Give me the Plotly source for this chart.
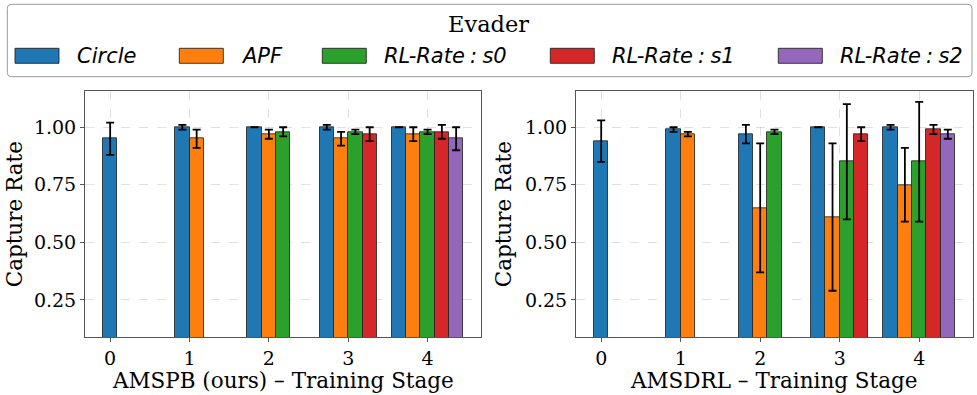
import plotly.graph_objects as go

# ---------------- data ----------------
stages = [0, 1, 2, 3, 4]
tick_labels = ["0", "1", "2", "3", "4"]
series_names = ["Circle", "APF", "RL-Rate\u2005:\u2005s0", "RL-Rate\u2005:\u2005s1", "RL-Rate\u2005:\u2005s2"]
colors = ["#1f77b4", "#ff7f0e", "#2ca02c", "#d62728", "#9467bd"]

amspb_circle = [0.95, 1.00, 1.00, 1.00, 1.00]
amspb_circle_err = [0.07, 0.01, 0.00, 0.01, 0.00]
amspb_apf = [None, 0.95, 0.97, 0.95, 0.97]
amspb_apf_err = [None, 0.04, 0.02, 0.03, 0.03]
amspb_s0 = [None, None, 0.98, 0.98, 0.98]
amspb_s0_err = [None, None, 0.02, 0.01, 0.01]
amspb_s1 = [None, None, None, 0.97, 0.98]
amspb_s1_err = [None, None, None, 0.03, 0.03]
amspb_s2 = [None, None, None, None, 0.95]
amspb_s2_err = [None, None, None, None, 0.05]

amsdrl_circle = [0.94, 0.99, 0.97, 1.00, 1.00]
amsdrl_circle_err = [0.09, 0.01, 0.04, 0.00, 0.01]
amsdrl_apf = [None, 0.97, 0.65, 0.61, 0.75]
amsdrl_apf_err = [None, 0.01, 0.28, 0.32, 0.16]
amsdrl_s0 = [None, None, 0.98, 0.85, 0.85]
amsdrl_s0_err = [None, None, 0.01, 0.25, 0.26]
amsdrl_s1 = [None, None, None, 0.97, 0.99]
amsdrl_s1_err = [None, None, None, 0.03, 0.02]
amsdrl_s2 = [None, None, None, None, 0.97]
amsdrl_s2_err = [None, None, None, None, 0.02]

panels = [
    ("AMSPB (ours) – Training Stage",
     [amspb_circle, amspb_apf, amspb_s0, amspb_s1, amspb_s2],
     [amspb_circle_err, amspb_apf_err, amspb_s0_err, amspb_s1_err, amspb_s2_err]),
    ("AMSDRL – Training Stage",
     [amsdrl_circle, amsdrl_apf, amsdrl_s0, amsdrl_s1, amsdrl_s2],
     [amsdrl_circle_err, amsdrl_apf_err, amsdrl_s0_err, amsdrl_s1_err, amsdrl_s2_err]),
]
y_title = "Capture Rate"

# ---------------- figure ----------------
W, H = 977, 395
BAR_W = 0.18
SERIF = "'DejaVu Serif', serif"
SANS = "'DejaVu Sans', sans-serif"
FS_TITLE = 21.5
FS_TICK = 19

def px(x):
    return x / W

def py(y):
    return 1 - y / H

fig = go.Figure()

for p, (title, vals, errs) in enumerate(panels):
    xa = "x" if p == 0 else "x2"
    ya = "y" if p == 0 else "y2"
    for j, name in enumerate(series_names):
        xs, ys, es = [], [], []
        for s_i, s in enumerate(stages):
            v = vals[j][s_i]
            if v is None:
                continue
            present = [k for k in range(len(series_names)) if vals[k][s_i] is not None]
            n = len(present)
            idx = present.index(j)
            xs.append(s + (idx - (n - 1) / 2) * BAR_W)
            ys.append(v)
            es.append(errs[j][s_i])
        fig.add_trace(go.Bar(
            x=xs, y=ys, width=BAR_W, name=name, showlegend=False,
            xaxis=xa, yaxis=ya,
            marker=dict(color=colors[j], line=dict(color="rgba(30,30,30,0.8)", width=1)),
            error_y=dict(type="data", array=es, visible=True, color="black",
                         thickness=1.8, width=4),
        ))

axis_common = dict(
    showline=True, mirror=True, linecolor="#555555", linewidth=1,
    ticks="outside", ticklen=4, tickcolor="#555555", tickwidth=1,
    showgrid=True, gridcolor="rgba(0,0,0,0.12)", griddash="dash", gridwidth=1,
    zeroline=False, automargin=False,
    tickfont=dict(family=SERIF, size=FS_TICK, color="black"),
)

left_dom = [85 / W, 481.3 / W]
right_dom = [576 / W, 973 / W]
y_dom = [1 - 337.3 / H, 1 - 91.3 / H]
xr = [-0.317, 4.677]
yr = [0.088, 1.156]
title_font = dict(family=SERIF, size=FS_TITLE, color="black")
ytickvals = [0.25, 0.5, 0.75, 1.0]
yticktext = ["0.25", "0.50", "0.75", "1.00"]

fig.update_layout(
    width=W, height=H, margin=dict(l=0, r=0, t=0, b=0),
    paper_bgcolor="white", plot_bgcolor="white",
    barmode="overlay", bargap=0,
    xaxis=dict(domain=left_dom, range=xr, tickvals=stages, ticktext=tick_labels,
               anchor="y", **axis_common),
    yaxis=dict(domain=y_dom, range=yr, tickvals=ytickvals, ticktext=yticktext,
               anchor="x", **axis_common),
    xaxis2=dict(domain=right_dom, range=xr, tickvals=stages, ticktext=tick_labels,
                anchor="y2", **axis_common),
    yaxis2=dict(domain=y_dom, range=yr, tickvals=ytickvals, ticktext=yticktext,
                anchor="x2", **axis_common),
)

# axis titles
for dom, ytx, (title, _, _) in [(left_dom, 14, panels[0]), (right_dom, 503, panels[1])]:
    fig.add_annotation(text=title, x=(dom[0] + dom[1]) / 2, y=py(394.5),
                       xref="paper", yref="paper", xanchor="center", yanchor="bottom",
                       showarrow=False, font=title_font)
    fig.add_annotation(text=y_title, x=px(ytx), y=(y_dom[0] + y_dom[1]) / 2,
                       xref="paper", yref="paper", xanchor="center", yanchor="middle",
                       textangle=-90, showarrow=False, font=title_font)

# ---------------- legend (drawn as a framed box) ----------------
bx0, bx1, by0, by1, r = 7.3, 972, 4.3, 76.7, 4
path = (f"M {px(bx0 + r)},{py(by0)} L {px(bx1 - r)},{py(by0)} "
        f"Q {px(bx1)},{py(by0)} {px(bx1)},{py(by0 + r)} "
        f"L {px(bx1)},{py(by1 - r)} Q {px(bx1)},{py(by1)} {px(bx1 - r)},{py(by1)} "
        f"L {px(bx0 + r)},{py(by1)} Q {px(bx0)},{py(by1)} {px(bx0)},{py(by1 - r)} "
        f"L {px(bx0)},{py(by0 + r)} Q {px(bx0)},{py(by0)} {px(bx0 + r)},{py(by0)} Z")
fig.add_shape(type="path", path=path, xref="paper", yref="paper",
              line=dict(color="#999999", width=1), fillcolor="rgba(255,255,255,0.8)")

fig.add_annotation(text="Evader", x=px(489), y=py(24), xref="paper", yref="paper",
                   xanchor="center", yanchor="middle", showarrow=False,
                   font=dict(family=SERIF, size=22.5, color="black"))

patch_x = [15, 179.3, 322.3, 550.3, 778.3]
for j, name in enumerate(series_names):
    x0 = patch_x[j]
    fig.add_shape(type="rect", xref="paper", yref="paper",
                  x0=px(x0), x1=px(x0 + 44), y0=py(63.3), y1=py(48.3),
                  fillcolor=colors[j], line=dict(color="rgba(30,30,30,0.85)", width=1))
    fig.add_annotation(text=f"<i>{name}</i>", x=px(x0 + 60), y=py(56.5),
                       xref="paper", yref="paper", xanchor="left", yanchor="middle",
                       showarrow=False, font=dict(family=SANS, size=21, color="black"))

fig.write_html("out.html", config={"displayModeBar": False},
               post_script="document.body.style.margin='0';")
